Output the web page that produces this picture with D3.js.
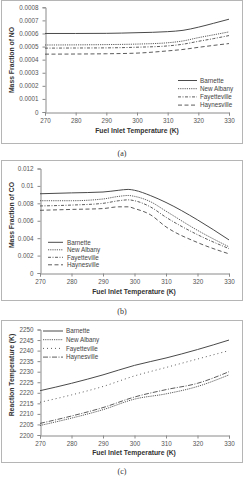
<!DOCTYPE html>
<html><head><meta charset="utf-8">
<script src="https://cdn.jsdelivr.net/npm/d3@7"></script>
<style>body{margin:0;background:#fff}svg{display:block}</style>
</head><body>
<script>
const seriesNames = ["Barnette", "New Albany", "Fayetteville", "Haynesville"];
const xTicks = [270, 280, 290, 300, 310, 320, 330];

// (a) Mass fraction of NO
const noX = [270, 280, 290, 300, 310, 315, 320, 325, 330];
const noBarnette    = [0.000600, 0.000600, 0.000601, 0.000606, 0.000614, 0.000624, 0.000648, 0.000678, 0.000709];
const noNewAlbany   = [0.000512, 0.000513, 0.000515, 0.000519, 0.000529, 0.000543, 0.000568, 0.000590, 0.000612];
const noFayetteville= [0.000488, 0.000489, 0.000490, 0.000495, 0.000505, 0.000518, 0.000540, 0.000561, 0.000584];
const noHaynesville = [0.000442, 0.000443, 0.000445, 0.000450, 0.000467, 0.000478, 0.000494, 0.000509, 0.000523];
const noYTicks = [0, 0.0001, 0.0002, 0.0003, 0.0004, 0.0005, 0.0006, 0.0007, 0.0008];

// (b) Mass fraction of CO
const coX = [270, 280, 290, 295, 298, 300, 305, 310, 320, 330];
const coBarnette    = [0.0091, 0.0092, 0.0093, 0.0095, 0.0096, 0.0095, 0.0089, 0.0081, 0.0061, 0.0038];
const coNewAlbany   = [0.0083, 0.0083, 0.0085, 0.0088, 0.0089, 0.0088, 0.0082, 0.0071, 0.0049, 0.0030];
const coFayetteville= [0.0077, 0.0078, 0.0080, 0.0083, 0.0084, 0.0083, 0.0076, 0.0064, 0.0044, 0.0028];
const coHaynesville = [0.0072, 0.0073, 0.0074, 0.0076, 0.0076, 0.0074, 0.0067, 0.0053, 0.0035, 0.0022];
const coYTicks = [0, 0.002, 0.004, 0.006, 0.008, 0.01, 0.012];

// (c) Reaction temperature
const rtX = [270, 280, 290, 300, 310, 320, 330];
const rtBarnette    = [2221, 2224.5, 2228.5, 2233, 2236.5, 2240.5, 2245];
const rtNewAlbany   = [2204.5, 2208, 2212, 2217, 2219.5, 2223, 2228.5];
const rtFayetteville= [2215.5, 2219, 2223, 2228, 2232, 2236, 2240];
const rtHaynesville = [2205.5, 2209, 2213, 2218, 2221.5, 2224.5, 2230];
const rtYTicks = [2200, 2205, 2210, 2215, 2220, 2225, 2230, 2235, 2240, 2245, 2250];

const W = 244, H = 480;
const svg = d3.select("body").append("svg").attr("width", W).attr("height", H);
const FONT = "'Liberation Sans', Arial, sans-serif";
const LINE = "#4a4a4a";

function panel(cfg) {
  const g = svg.append("g");
  g.append("rect").attr("x", cfg.box[0] + 0.5).attr("y", cfg.box[1] + 0.5)
    .attr("width", cfg.box[2]).attr("height", cfg.box[3])
    .attr("fill", "#fff").attr("stroke", "#b5b5b5").attr("stroke-width", 1);

  const x = d3.scaleLinear().domain([270, 330]).range([cfg.px0, cfg.px1]);
  const y = d3.scaleLinear().domain(cfg.yDomain).range([cfg.pyB, cfg.pyT]);

  const xa = g.append("g").attr("transform", `translate(0,${cfg.pyB + 0.5})`)
    .call(d3.axisBottom(x).tickValues(xTicks).tickSize(3).tickPadding(3).tickFormat(d3.format("d")));
  const ya = g.append("g").attr("transform", `translate(${cfg.px0 + 0.5},0)`)
    .call(d3.axisLeft(y).tickValues(cfg.yTicks).tickSize(3).tickPadding(4).tickFormat(cfg.fmt));
  [xa, ya].forEach(a => {
    a.select(".domain").attr("stroke", "#8a8a8a");
    a.selectAll(".tick line").attr("stroke", "#8a8a8a");
    a.selectAll("text").attr("fill", "#555").attr("font-family", FONT).attr("font-size", 6.3);
  });

  const line = d3.line().x(d => x(d[0])).y(d => y(d[1])).curve(d3.curveMonotoneX);
  cfg.series.forEach((s, i) => {
    const pts = cfg.xs.map((xv, j) => [xv, s[j]]);
    g.append("path").attr("d", line(pts)).attr("fill", "none")
      .attr("stroke", LINE).attr("stroke-width", cfg.widths[i])
      .attr("stroke-dasharray", cfg.dashes[i]);
  });

  // legend
  seriesNames.forEach((n, i) => {
    const ly = cfg.leg.y0 + i * cfg.leg.dy;
    g.append("line").attr("x1", cfg.leg.x0).attr("x2", cfg.leg.x1)
      .attr("y1", ly).attr("y2", ly).attr("stroke", LINE)
      .attr("stroke-width", cfg.widths[i]).attr("stroke-dasharray", cfg.dashes[i]);
    g.append("text").attr("x", cfg.leg.tx).attr("y", ly).attr("dy", "0.35em")
      .attr("font-family", FONT).attr("font-size", 6.3).attr("fill", "#444").text(n);
  });

  g.append("text").attr("x", cfg.xt[0]).attr("y", cfg.xt[1]).attr("text-anchor", "middle")
    .attr("font-family", FONT).attr("font-size", 6.8).attr("font-weight", "bold")
    .attr("fill", "#333").text("Fuel Inlet Temperature (K)");
  g.append("text").attr("transform", `translate(${cfg.yt[0]},${cfg.yt[1]}) rotate(-90)`)
    .attr("text-anchor", "middle").attr("font-family", FONT).attr("font-size", 6.8)
    .attr("font-weight", "bold").attr("fill", "#333").text(cfg.ytitle);
  g.append("text").attr("x", 122).attr("y", cfg.cap).attr("text-anchor", "middle")
    .attr("font-family", "'Liberation Serif', serif").attr("font-size", 8)
    .attr("fill", "#333").text(cfg.caption);
}

panel({
  box: [1, 0, 241, 143], px0: 45, px1: 229, pyB: 112, pyT: 7.3,
  yDomain: [0, 0.0008], yTicks: noYTicks, fmt: d => d === 0 ? "0" : d.toFixed(4),
  xs: noX, series: [noBarnette, noNewAlbany, noFayetteville, noHaynesville],
  dashes: [null, "1.2,1", "3,1.5,1,1.5", "4,2.5"], widths: [1, 0.9, 0.9, 0.9],
  leg: { x0: 178, x1: 197, tx: 200, y0: 80.5, dy: 8.2 },
  xt: [137, 133], yt: [14, 60], ytitle: "Mass Fraction of NO", cap: 156, caption: "(a)"
});

panel({
  box: [1, 160, 241, 140], px0: 40, px1: 229, pyB: 273, pyT: 168.5,
  yDomain: [0, 0.012], yTicks: coYTicks, fmt: d => d === 0 ? "0" : String(+d.toFixed(3)),
  xs: coX, series: [coBarnette, coNewAlbany, coFayetteville, coHaynesville],
  dashes: [null, "1.2,1", "3,1.5,1,1.5", "4,2.5"], widths: [1, 0.9, 0.9, 0.9],
  leg: { x0: 48, x1: 63, tx: 67, y0: 242.3, dy: 7.5 },
  xt: [134, 294], yt: [14, 215], ytitle: "Mass Fraction of CO", cap: 314, caption: "(b)"
});

panel({
  box: [1, 320, 241, 142], px0: 40, px1: 229, pyB: 435, pyT: 329.5,
  yDomain: [2200, 2250], yTicks: rtYTicks, fmt: d3.format("d"),
  xs: rtX, series: [rtBarnette, rtNewAlbany, rtFayetteville, rtHaynesville],
  dashes: [null, "1.2,1", "1,3", "5,1.5,1,1.5"], widths: [1, 0.9, 0.9, 0.9],
  leg: { x0: 43, x1: 63, tx: 66, y0: 331, dy: 8.7 },
  xt: [134, 455], yt: [14, 375], ytitle: "Reaction Temperature (K)", cap: 474, caption: "(c)"
});
</script>
</body></html>
